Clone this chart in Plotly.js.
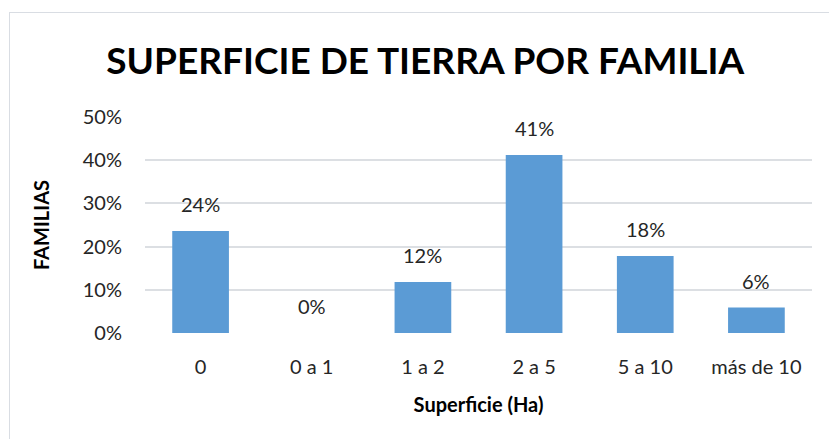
<!DOCTYPE html>
<html>
<head>
<meta charset="utf-8">
<script src="https://cdn.plot.ly/plotly-3.0.1.min.js"></script>
<style>
html,body{margin:0;padding:0;background:#fff;}
#wrap{position:relative;width:829px;height:439px;overflow:hidden;}
#chart{position:absolute;left:0;top:0;width:829px;height:439px;}
#frame{position:absolute;left:9px;top:12px;width:840px;height:450px;border:1px solid #d9dde3;pointer-events:none;}
</style>
</head>
<body>
<div id="wrap"><div id="chart"></div><div id="frame"></div></div>
<script>
const categories = ["0", "0 a 1", "1 a 2", "2 a 5", "5 a 10", "más de 10"];
const shares = [0.236, 0.0, 0.118, 0.412, 0.178, 0.059];
const yTickVals = [0, 0.1, 0.2, 0.3, 0.4, 0.5];
const yTickText = ["0%", "10%", "20%", "30%", "40%", "50%"];

const FONT = "Lato, 'Open Sans', sans-serif";

const trace = {
  type: "bar",
  x: categories,
  y: shares,
  marker: {color: "#5b9bd5", line: {width: 0}},
  hoverinfo: "skip"
};

const annotations = categories.map((c, i) => ({
  x: c, y: shares[i], xref: "x", yref: "y",
  text: Math.round(shares[i] * 100) + "%",
  showarrow: false, yanchor: "bottom", yshift: 13,
  font: {family: FONT, size: 20, color: "#262626"}
}));

const layout = {
  width: 829, height: 439,
  margin: {l: 145, r: 17, t: 117, b: 106},
  paper_bgcolor: "#ffffff", plot_bgcolor: "#ffffff",
  showlegend: false,
  bargap: 0.49,
  title: {
    text: "<b>SUPERFICIE DE TIERRA POR FAMILIA</b>",
    font: {family: FONT, size: 37, color: "#000000"},
    x: 0.513, xanchor: "center", y: 0.862, yanchor: "middle"
  },
  xaxis: {
    type: "category",
    tickfont: {family: FONT, size: 20, color: "#262626"},
    ticks: "", showline: false, showgrid: false, zeroline: false,
    ticklabelstandoff: 20,
    title: {text: "<b>Superficie (Ha)</b>", font: {family: FONT, size: 20, color: "#000000"}, standoff: 20}
  },
  yaxis: {
    range: [0, 0.5],
    tickvals: yTickVals, ticktext: yTickText,
    tickfont: {family: FONT, size: 20, color: "#262626"},
    ticks: "", showline: false, zeroline: false,
    showgrid: true, gridcolor: "#dcdfe3", gridwidth: 2,
    ticklabelstandoff: 22,
    title: {text: "<b>FAMILIAS</b>", font: {family: FONT, size: 20, color: "#000000"}, standoff: 27}
  },
  annotations: annotations
};

Plotly.newPlot("chart", [trace], layout, {displayModeBar: false, staticPlot: true});
</script>
</body>
</html>
